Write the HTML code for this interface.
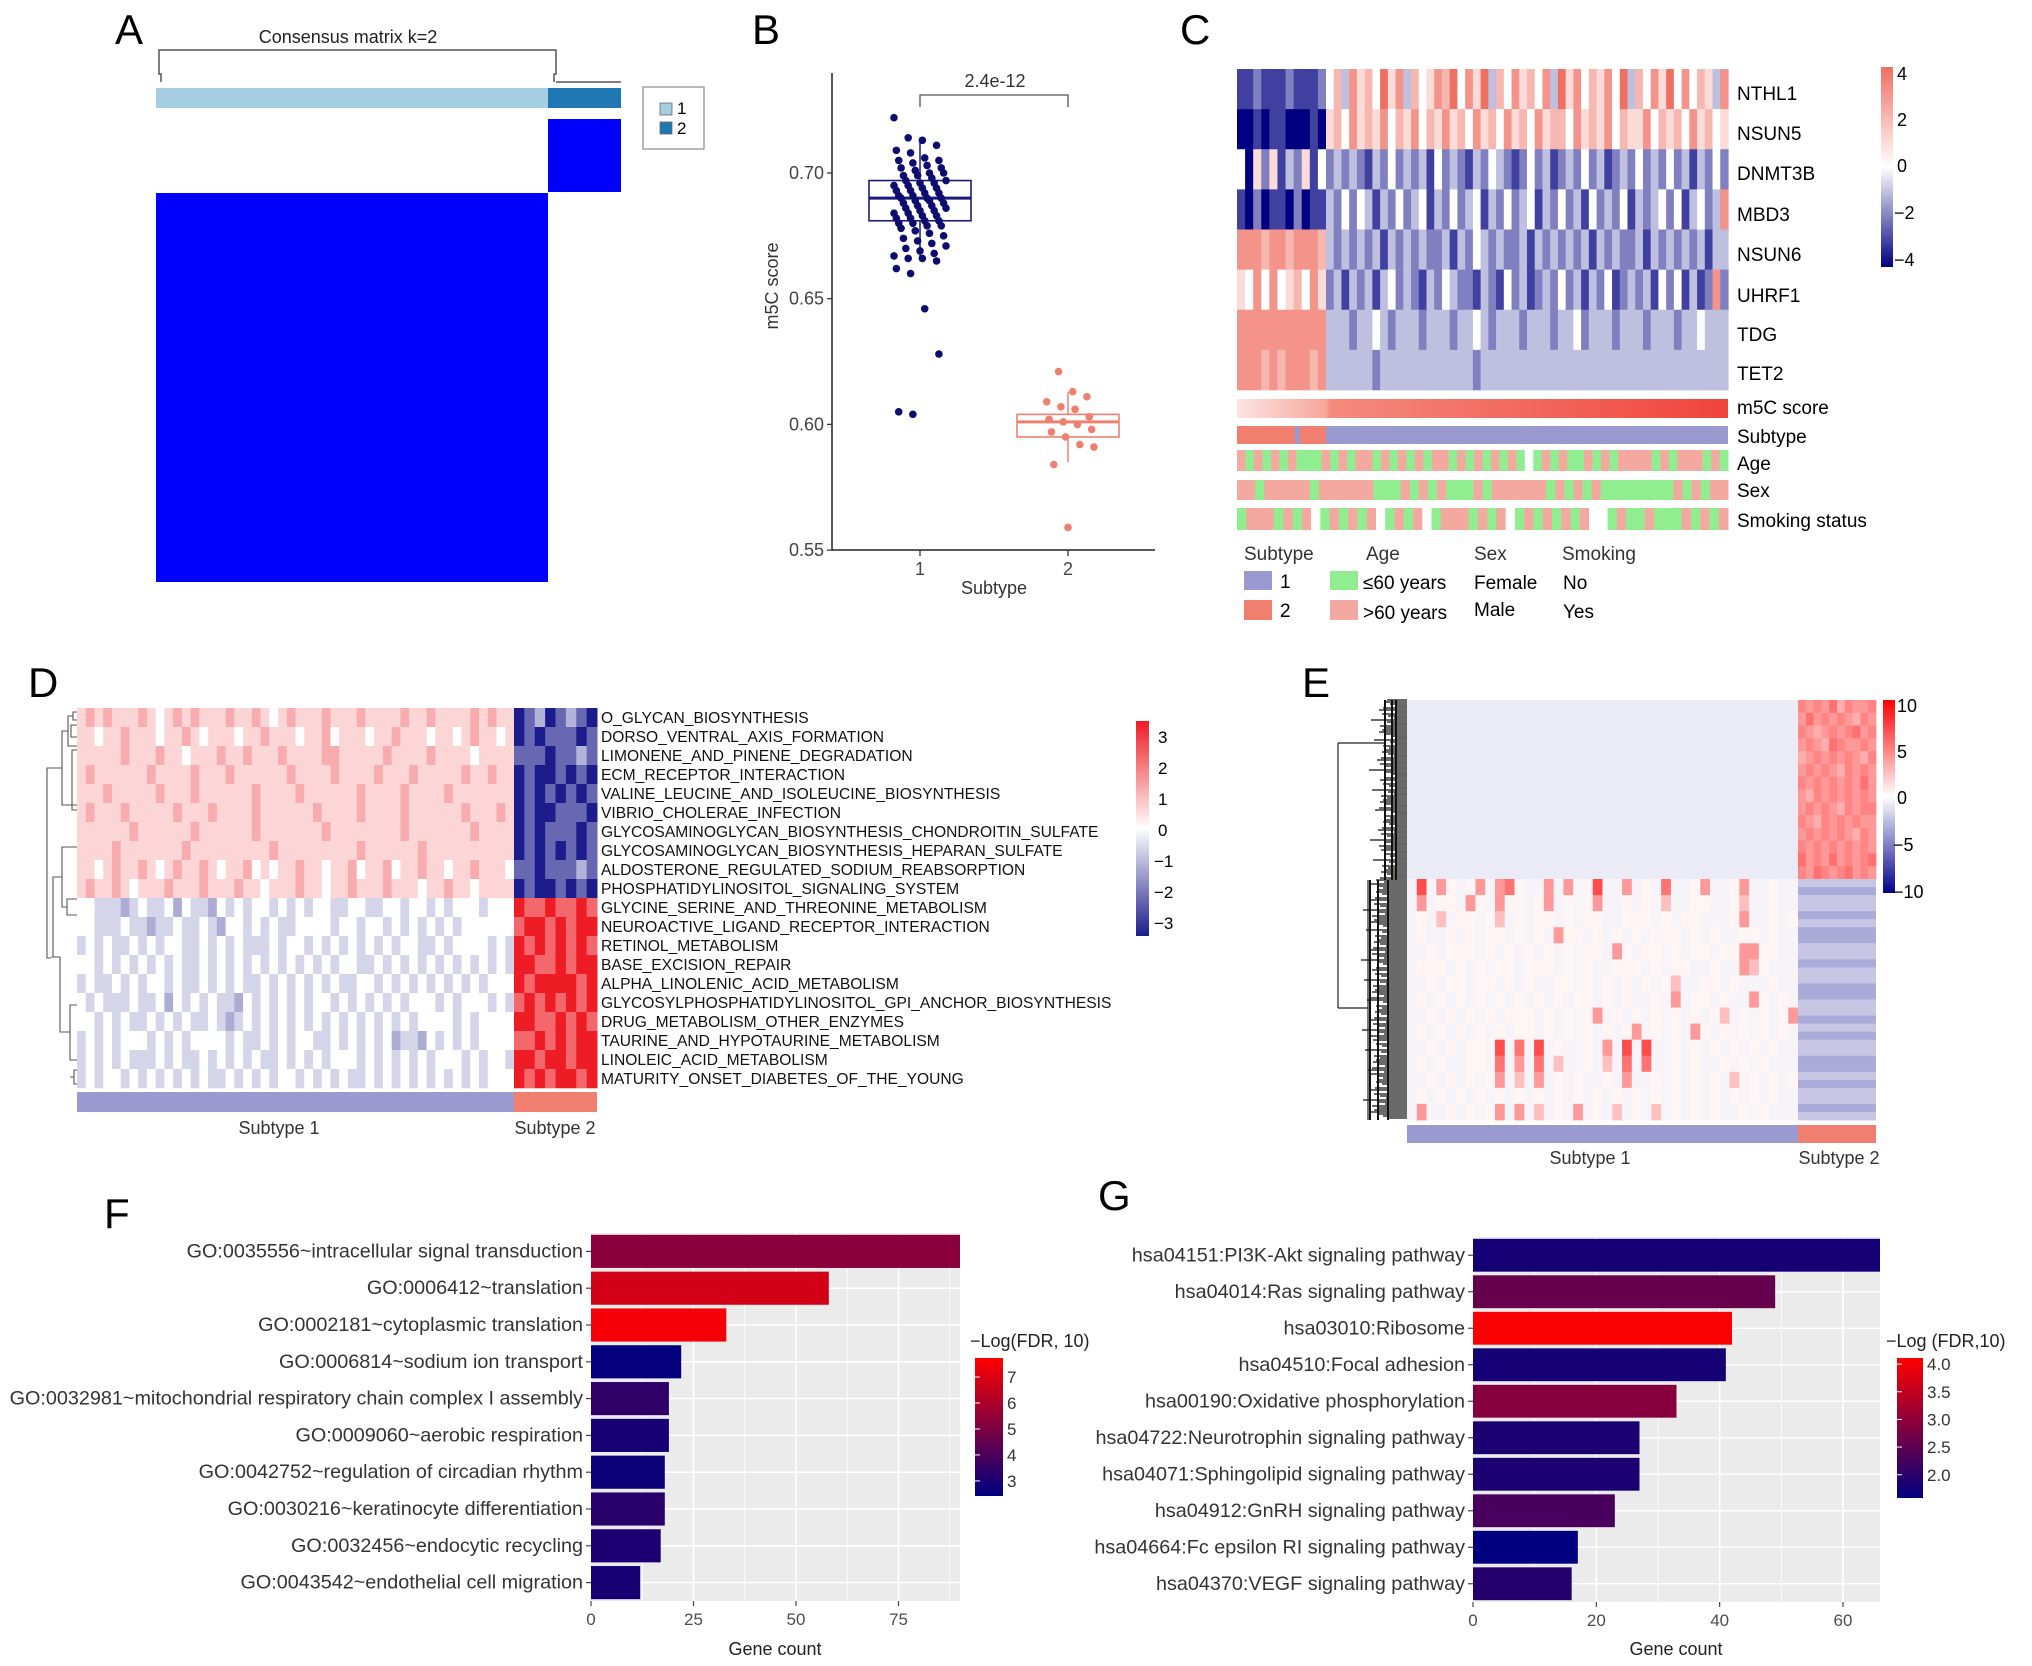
<!DOCTYPE html>
<html><head><meta charset="utf-8"><style>
html,body{margin:0;padding:0;background:#fff;}
svg{display:block;font-family:"Liberation Sans",Arial,sans-serif;}
</style></head><body>
<svg id="fig" width="2032" height="1666" viewBox="0 0 2032 1666" xmlns="http://www.w3.org/2000/svg">
<rect width="2032" height="1666" fill="#fff"/>
<text x="115" y="44" font-size="42">A</text>
<text x="752" y="44" font-size="42">B</text>
<text x="1180" y="44" font-size="42">C</text>
<text x="28" y="697" font-size="42">D</text>
<text x="1302" y="697" font-size="42">E</text>
<text x="104" y="1228" font-size="42">F</text>
<text x="1098" y="1210" font-size="42">G</text>

<g>
<text x="348" y="43" font-size="18" text-anchor="middle" fill="#222">Consensus matrix k=2</text>
<path d="M161,82 V74 h-2 V50 H556 V74 h-2 V82 M556,82 H621" fill="none" stroke="#555" stroke-width="1.5"/>
<rect x="156" y="88" width="392" height="20" fill="#a6cee3"/>
<rect x="548" y="88" width="73" height="20" fill="#1f78b4"/>
<rect x="548" y="119" width="73" height="73" fill="#0000ff"/>
<rect x="156" y="193" width="392" height="389" fill="#0000ff"/>
<rect x="643" y="87" width="61" height="62" fill="#fff" stroke="#888" stroke-width="1.2"/>
<rect x="660" y="103" width="12" height="12" fill="#a6cee3" stroke="#666" stroke-width="0.8"/>
<text x="677" y="114" font-size="17">1</text>
<rect x="660" y="122" width="12" height="12" fill="#1f78b4" stroke="#666" stroke-width="0.8"/>
<text x="677" y="134" font-size="17">2</text>
</g>

<g id="pB">
<line x1="832" y1="73" x2="832" y2="550" stroke="#222" stroke-width="1.5"/>
<line x1="832" y1="550" x2="1155" y2="550" stroke="#222" stroke-width="1.5"/>
<text x="0" y="0" transform="translate(778,286) rotate(-90)" font-size="18" text-anchor="middle" fill="#333">m5C score</text>
<text x="994" y="594" font-size="18" text-anchor="middle" fill="#333">Subtype</text>
<path d="M920,107 V95 H1068 V107" fill="none" stroke="#555" stroke-width="1.3"/>
<text x="995" y="87" font-size="18" text-anchor="middle" fill="#333">2.4e-12</text>
</g>

<g>
<text x="1737" y="100" font-size="19">NTHL1</text>
<text x="1737" y="140" font-size="19">NSUN5</text>
<text x="1737" y="180" font-size="19">DNMT3B</text>
<text x="1737" y="221" font-size="19">MBD3</text>
<text x="1737" y="261" font-size="19">NSUN6</text>
<text x="1737" y="302" font-size="19">UHRF1</text>
<text x="1737" y="341" font-size="19">TDG</text>
<text x="1737" y="380" font-size="19">TET2</text>
<text x="1737" y="414" font-size="19">m5C score</text>
<text x="1737" y="443" font-size="19">Subtype</text>
<text x="1737" y="470" font-size="19">Age</text>
<text x="1737" y="497" font-size="19">Sex</text>
<text x="1737" y="527" font-size="19">Smoking status</text>
<defs>
<linearGradient id="m5cg" x1="0" x2="1" y1="0" y2="0"><stop offset="0" stop-color="#fbe4e1"/><stop offset="0.18" stop-color="#f6a79c"/><stop offset="0.19" stop-color="#f48b7e"/><stop offset="1" stop-color="#f0443c"/></linearGradient>
<linearGradient id="cbarC" x1="0" x2="0" y1="0" y2="1"><stop offset="0" stop-color="#ef6f63"/><stop offset="0.5" stop-color="#ffffff"/><stop offset="1" stop-color="#000080"/></linearGradient>
<linearGradient id="cbarD" x1="0" x2="0" y1="0" y2="1"><stop offset="0" stop-color="#ee1c24"/><stop offset="0.5" stop-color="#ffffff"/><stop offset="1" stop-color="#1c1c8c"/></linearGradient>
<linearGradient id="cbarE" x1="0" x2="0" y1="0" y2="1"><stop offset="0" stop-color="#ff0000"/><stop offset="0.5" stop-color="#ffffff"/><stop offset="1" stop-color="#00008b"/></linearGradient>
<linearGradient id="cbarF" x1="0" x2="0" y1="0" y2="1"><stop offset="0" stop-color="#ff0000"/><stop offset="1" stop-color="#000080"/></linearGradient>
</defs>
<rect x="1237" y="399" width="491" height="19" fill="url(#m5cg)"/>
<rect x="1237" y="426" width="89" height="18" fill="#f07f6f"/>
<rect x="1295" y="426" width="5" height="18" fill="#9a9ad0"/>
<rect x="1326" y="426" width="402" height="18" fill="#9a9ad0"/>
<rect x="1881" y="67" width="12" height="200" fill="url(#cbarC)"/>
<text x="1897" y="80" font-size="18">4</text>
<text x="1897" y="126" font-size="18">2</text>
<text x="1897" y="172" font-size="18">0</text>
<text x="1894" y="219" font-size="18">−2</text>
<text x="1894" y="266" font-size="18">−4</text>
<text x="1244" y="560" font-size="19" fill="#333">Subtype</text>
<text x="1366" y="560" font-size="19" fill="#333">Age</text>
<text x="1474" y="560" font-size="19" fill="#333">Sex</text>
<text x="1562" y="560" font-size="19" fill="#333">Smoking</text>
<rect x="1244" y="571" width="28" height="19" fill="#9a9ad0"/>
<text x="1280" y="588" font-size="19">1</text>
<rect x="1244" y="600" width="28" height="20" fill="#f07f6f"/>
<text x="1280" y="617" font-size="19">2</text>
<rect x="1330" y="571" width="28" height="19" fill="#90ee90"/>
<text x="1363" y="589" font-size="19">≤60 years</text>
<rect x="1330" y="600" width="28" height="20" fill="#f4a9a0"/>
<text x="1363" y="619" font-size="19">&gt;60 years</text>
<text x="1474" y="589" font-size="19">Female</text>
<text x="1474" y="616" font-size="19">Male</text>
<text x="1563" y="589" font-size="19">No</text>
<text x="1563" y="618" font-size="19">Yes</text>
</g>

<g>
<rect x="77" y="1092" width="437" height="20" fill="#9a9ad0"/>
<rect x="514" y="1092" width="83" height="20" fill="#f07f6f"/>
<text x="279" y="1134" font-size="18" text-anchor="middle" fill="#333">Subtype 1</text>
<text x="555" y="1134" font-size="18" text-anchor="middle" fill="#333">Subtype 2</text>
<rect x="1136" y="721" width="13" height="215" fill="url(#cbarD)"/>
<text x="1158" y="743" font-size="17">3</text>
<text x="1158" y="774" font-size="17">2</text>
<text x="1158" y="805" font-size="17">1</text>
<text x="1158" y="836" font-size="17">0</text>
<text x="1154" y="867" font-size="17">−1</text>
<text x="1154" y="898" font-size="17">−2</text>
<text x="1154" y="929" font-size="17">−3</text>
<path d="M77,712 h-4 v8 h4 M73,716 h-5 v30 h9 M77,725 h-6 v12 h6 M68,731 h-6 v74 h15 M77,750 h-5 v60 h5 M62,768 h-15 v190 h4 M77,915 h-10 v-16 h10 M67,907 h-5 v-60 h15 M62,877 h-9 v80 h-2 M77,1005 h-7 v55 h7 M70,1032 h-10 v-75 h-9 M77,1070 h-3 v14 h3 M74,1077 h-4" fill="none" stroke="#555" stroke-width="1.1"/>
</g>
<g id="dLabels"></g>

<g>
<rect x="1407" y="1125" width="391" height="18" fill="#9a9ad0"/>
<rect x="1798" y="1125" width="78" height="18" fill="#f07f6f"/>
<text x="1590" y="1164" font-size="18" text-anchor="middle" fill="#333">Subtype 1</text>
<text x="1839" y="1164" font-size="18" text-anchor="middle" fill="#333">Subtype 2</text>
<rect x="1883" y="700" width="12" height="193" fill="url(#cbarE)"/>
<text x="1897" y="712" font-size="18">10</text>
<text x="1897" y="758" font-size="18">5</text>
<text x="1897" y="804" font-size="18">0</text>
<text x="1893" y="851" font-size="18">−5</text>
<text x="1893" y="898" font-size="18">−10</text>
<path d="M1338,743 V1008 M1338,743 H1385 M1338,1008 H1368 M1368,880 V1120 M1385,700 V790" fill="none" stroke="#222" stroke-width="1.2"/>
</g>
<g id="eDendro"></g>

<g>
<rect x="591" y="1233" width="369" height="368" fill="#ebebeb"/>
<text x="775" y="1655" font-size="18" text-anchor="middle" fill="#222">Gene count</text>
<text x="970" y="1347" font-size="18" fill="#222">−Log(FDR, 10)</text>
<rect x="975" y="1358" width="28" height="138" fill="url(#cbarF)"/>
</g>
<g>
<rect x="1473" y="1237" width="407" height="365" fill="#ebebeb"/>
<text x="1676" y="1655" font-size="18" text-anchor="middle" fill="#222">Gene count</text>
<text x="1886" y="1347" font-size="18" fill="#222">−Log (FDR,10)</text>
<rect x="1897" y="1358" width="26" height="140" fill="url(#cbarF)"/>
</g>
</svg>
<script>
// ===== Panel B data =====
const bSub1 = [0.722,0.714,0.713,0.711,0.709,0.708,0.706,0.705,0.705,0.704,0.703,0.702,0.702,0.701,0.700,0.700,0.699,0.699,0.698,0.697,0.697,0.696,0.696,0.695,0.695,0.694,0.694,0.693,0.693,0.692,0.692,0.691,0.691,0.690,0.690,0.690,0.689,0.689,0.688,0.688,0.687,0.687,0.686,0.686,0.685,0.685,0.684,0.684,0.683,0.683,0.682,0.682,0.681,0.681,0.680,0.680,0.679,0.679,0.678,0.677,0.676,0.675,0.674,0.673,0.672,0.671,0.670,0.669,0.668,0.667,0.666,0.666,0.665,0.662,0.660,0.646,0.628,0.605,0.604];
const bSub2 = [0.621,0.613,0.611,0.609,0.607,0.606,0.603,0.602,0.601,0.600,0.598,0.597,0.595,0.592,0.591,0.584,0.559];
const bBox1 = [0.666,0.681,0.690,0.697,0.714];
const bBox2 = [0.585,0.595,0.601,0.604,0.613];
const bTicks = [0.55,0.60,0.65,0.70];
const bCats = ["1","2"];

// ===== Panel C data (levels 0..8 => -4..4) =====
const cGenes = ["NTHL1","NSUN5","DNMT3B","MBD3","NSUN6","UHRF1","TDG","TET2"];
const cSub2 = ["11211121112","00101100010","40525132514","10201102011","77767767776","54747456475","77777777777","77767677767"];
const cSub1 = [
"4637564857364576847583647564738574657483647584746537",
"5647565746574657564756475647566475657465574656475645",
"2323213242323142321324321242312324231232423242313242",
"3242431324234132423413242341324231423241323424134237",
"3232323132323223132432322313232323132322313232323133",
"2313231342321324322132142312324231324123231424131272",
"3332334323332333233432333233323342333233323332334333",
"3333332333333333333233333333333333333333333333333333"];
const cAge = "pgpgpgpgggpgpgppgpgpgpgppgpgpgpgpgwgpgpggpgpgppppgpgpppgpg";
const cSex = "ppgpppppgppppppgggpgpgpgggpgppppppgpgpgpggggggggpgpgpp";
const cSmoke = "gpppgpgpwgpgpgpwgpgpwgpppgpgpwgpgpgpgpwwgpggpgggpgpgp";

// ===== Panel D data (levels 0..6; left block in 0.55 units, right block in 1 units) =====
const dPaths = ["O_GLYCAN_BIOSYNTHESIS","DORSO_VENTRAL_AXIS_FORMATION","LIMONENE_AND_PINENE_DEGRADATION","ECM_RECEPTOR_INTERACTION","VALINE_LEUCINE_AND_ISOLEUCINE_BIOSYNTHESIS","VIBRIO_CHOLERAE_INFECTION","GLYCOSAMINOGLYCAN_BIOSYNTHESIS_CHONDROITIN_SULFATE","GLYCOSAMINOGLYCAN_BIOSYNTHESIS_HEPARAN_SULFATE","ALDOSTERONE_REGULATED_SODIUM_REABSORPTION","PHOSPHATIDYLINOSITOL_SIGNALING_SYSTEM","GLYCINE_SERINE_AND_THREONINE_METABOLISM","NEUROACTIVE_LIGAND_RECEPTOR_INTERACTION","RETINOL_METABOLISM","BASE_EXCISION_REPAIR","ALPHA_LINOLENIC_ACID_METABOLISM","GLYCOSYLPHOSPHATIDYLINOSITOL_GPI_ANCHOR_BIOSYNTHESIS","DRUG_METABOLISM_OTHER_ENZYMES","TAURINE_AND_HYPOTAURINE_METABOLISM","LINOLEIC_ACID_METABOLISM","MATURITY_ONSET_DIABETES_OF_THE_YOUNG"];
const dLeft = [
"45454445434545444544543454445444544445445444454544",
"44344544434454344434454443445344434454443443454434",
"44444544454434445445444544445544444544445444434444",
"45444444544445444544444454444544445444544444544544",
"44454444454445444444544445444444544445444454444444",
"45444544444544454444544444454444544445444444544454",
"44444454444445444444544444445444444445444444454444",
"44445444444454444444445444444444544444454444444444",
"44345445434544543445343445443445344534454434454443",
"45445434445444544454434445443445444544434454434444",
"33222123223132213232332323233223322332332323332333",
"33222322122322321332323223333233233232323232333333",
"23232232323322323232223233232323232323322323333232",
"33232323232322323232323232323233223232323232323232",
"23223232332322323232232323232322332323232323232333",
"32322232231323232213232323233232323232333232333232",
"33232322323232232123232323232323232323233332323333",
"23232333232323333232232323322323232312213232323333",
"23232322232322323232322323232333232323232333232332",
"23233232323232322323232332323232232323232323232333"];
const dRight = ["01201210","01011101","11101121","01001010","01010101","01001110","01011101","01010101","11011121","01001010","65565565","56656566","65656565","66556566","65666656","56565656","66556565","55656566","66566566","65656656"];
const dLeftUnit = 0.55;

// ===== Panel E data =====
const eTopLeft = -0.8;
const eTopRight = ["6565746556","5756565465","6545656756","5654765565","4565656546","5656546565","6565656575","5465656565","5656546566","6546565655","5656565465","6565656565","7565756567","6576567565"];
const eBotLeft = [
"0503101303410030301500301040013001300100",
"0301103103110130101300101020011001200100",
"0102011012010110101100111010110001300101",
"0100101011010103110101010111010100110100",
"0010111010101010101103101101011011331100",
"0111010101101110101001110101100100321000",
"0010110110101001101010101012001101000100",
"0101010101010101011010100103011010031010",
"0010101010111010101301010101010120101013",
"0101010101011010101010130101031010101010",
"0010101105040501001030505001010101010100",
"0101001104030402001020404001010010101000",
"0010101013020301010010300101010102010101",
"0101010101010101010101010101010101010100",
"0300101013030201030102010201010100101000"];
const eLevelVals = [0,0.4,2.5,4,5.5,7];
const eBotRight = [-2,-3,-2,-2,-3,-2,-3,-3,-2,-2,-3,-2,-2,-3,-3,-2,-2,-3,-2,-3,-2,-2,-3,-3,-2,-3,-2,-2,-3,-2];

// ===== Panel F/G data =====
const fTerms = ["GO:0035556~intracellular signal transduction","GO:0006412~translation","GO:0002181~cytoplasmic translation","GO:0006814~sodium ion transport","GO:0032981~mitochondrial respiratory chain complex I assembly","GO:0009060~aerobic respiration","GO:0042752~regulation of circadian rhythm","GO:0030216~keratinocyte differentiation","GO:0032456~endocytic recycling","GO:0043542~endothelial cell migration"];
const fCounts = [90,58,33,22,19,19,18,18,17,12];
const fFdr = [5.3,6.8,7.5,2.5,3.4,2.9,2.7,3.3,3.0,2.9];
const fTicks = [0,25,50,75];
const fCbTicks = [3,4,5,6,7];
const gTerms = ["hsa04151:PI3K-Akt signaling pathway","hsa04014:Ras signaling pathway","hsa03010:Ribosome","hsa04510:Focal adhesion","hsa00190:Oxidative phosphorylation","hsa04722:Neurotrophin signaling pathway","hsa04071:Sphingolipid signaling pathway","hsa04912:GnRH signaling pathway","hsa04664:Fc epsilon RI signaling pathway","hsa04370:VEGF signaling pathway"];
const gCounts = [66,49,42,41,33,27,27,23,17,16];
const gFdr = [1.8,2.6,4.05,1.8,2.9,1.85,1.85,2.3,1.6,1.95];
const gTicks = [0,20,40,60];
const gCbTicks = [2.0,2.5,3.0,3.5,4.0];

const NS = 'http://www.w3.org/2000/svg';
const svg = document.getElementById('fig');
function mk(tag, a, parent){const e=document.createElementNS(NS,tag);for(const k in a)e.setAttribute(k,a[k]);(parent||svg).appendChild(e);return e;}
function hx(c){return [parseInt(c.slice(1,3),16),parseInt(c.slice(3,5),16),parseInt(c.slice(5,7),16)];}
function lerp(c1,c2,t){t=Math.max(0,Math.min(1,t));const a=hx(c1),b=hx(c2);return 'rgb('+a.map((v,i)=>Math.round(v+(b[i]-v)*t)).join(',')+')';}
function div(v,m,lo,hi){return v<0?lerp('#ffffff',lo,-v/m):lerp('#ffffff',hi,v/m);}

// ===== B =====
const by = v => 173 + (0.70 - v) / 0.05 * 125.7;
const bx = i => 920 + i * 148;
bTicks.forEach(t=>{
  const l=mk('line',{x1:827,x2:832,y1:by(t),y2:by(t),stroke:'#333','stroke-width':1.3});
  
  
  const tx=mk('text',{x:824,y:by(t)+6,'font-size':18,'text-anchor':'end',fill:'#444'});
  tx.textContent=t.toFixed(2);
  
  
});
bCats.forEach((c,i)=>{
  const l=mk('line',{x1:bx(i),x2:bx(i),y1:550,y2:556,stroke:'#333','stroke-width':1.3});
  
  
  const tx=mk('text',{x:bx(i),y:575,'font-size':18,'text-anchor':'middle',fill:'#444'});
  tx.textContent=c;
  
  
});
[[bBox1,'#1a1a7a'],[bBox2,'#f08070']].forEach((bb,i)=>{
  const s=bb[0], col=bb[1], cx=bx(i), hw=51;
  const w=mk('path',{d:`M${cx},${by(s[0])}V${by(s[1])}M${cx},${by(s[3])}V${by(s[4])}`,stroke:col,'stroke-width':1.5,fill:'none'});
  
  
  const r=mk('rect',{x:cx-hw,y:by(s[3]),width:2*hw,height:by(s[1])-by(s[3]),fill:'none',stroke:col,'stroke-width':1.6});
  
  
  const m=mk('line',{x1:cx-hw,x2:cx+hw,y1:by(s[2]),y2:by(s[2]),stroke:col,'stroke-width':3});
  
  
});
[[bSub1,'#0d0d70'],[bSub2,'#f07f6f']].forEach((pair,g)=>{
  const vals=pair[0], col=pair[1];
  vals.forEach((v,i)=>{
    const dx=(((i*29+g*7)%23)/22-0.5)*52;
    const p=mk('circle',{cx:bx(g)+dx,cy:by(v),r:3.8,fill:col});
    
    
  });
});

// ===== C =====
const cRowH = (390-69)/8;
function cCol(l){return div(l-4,4,'#000080','#ef6f63');}
cGenes.forEach((g,r)=>{
  const y=69+r*cRowH;
  [[cSub2[r],1237,89],[cSub1[r],1326,402]].forEach(part=>{
    const s=part[0], x0=part[1], w=part[2], cw=w/s.length;
    for(let i=0;i<s.length;i++){
      const c=mk('rect',{x:x0+i*cw,y:y,width:cw+0.6,height:cRowH+0.3,fill:cCol(+s[i])});
      
      
    }
  });
});
const annCol={g:'#90ee90',p:'#f4a9a0',w:'#ffffff'};
[[cAge,450,21,'age'],[cSex,480,20,'sex'],[cSmoke,508,22,'smoking']].forEach(a=>{
  const s=a[0], y=a[1], h=a[2], n=a[3], cw=491/s.length;
  for(let i=0;i<s.length;i++){
    const c=mk('rect',{x:1237+i*cw,y:y,width:cw+0.5,height:h,fill:annCol[s[i]]});
    
    
  }
});

// ===== D =====
const dRowH=(1088-708)/20;
function dCol(v){return div(v,3,'#1c1c8c','#ee1c24');}
dPaths.forEach((p,r)=>{
  const y=708+r*dRowH;
  [[dLeft[r],77,437,dLeftUnit],[dRight[r],514,83,1]].forEach(part=>{
    const s=part[0], x0=part[1], w=part[2], u=part[3], cw=w/s.length;
    for(let i=0;i<s.length;i++){
      const c=mk('rect',{x:x0+i*cw,y:y,width:cw+0.5,height:dRowH+0.3,fill:dCol((+s[i]-3)*u)});
      
      
    }
  });
  const t=mk('text',{x:601,y:y+dRowH/2+5.5,'font-size':15.6,fill:'#111'},document.getElementById('dLabels'));
  t.textContent=p;
  
  
});

// ===== E =====
function eCol(v){return div(v,10,'#00008b','#ff0000');}
{
  const tl=mk('rect',{x:1407,y:700,width:391,height:179,fill:eCol(eTopLeft)});
  
  
  const rh=179/eTopRight.length;
  eTopRight.forEach((s,r)=>{const cw=78/s.length;for(let i=0;i<s.length;i++){
    const c=mk('rect',{x:1798+i*cw,y:700+r*rh,width:cw+0.4,height:rh+0.4,fill:eCol(+s[i]*0.8)});
    
    
  }});
  const bh=(1120-879)/eBotLeft.length;
  eBotLeft.forEach((s,r)=>{const cw=391/s.length;for(let i=0;i<s.length;i++){
    const v=eLevelVals[+s[i]]; const c=mk('rect',{x:1407+i*cw,y:879+r*bh,width:cw+0.4,height:bh+0.4,fill:v===0?'#f6f4f8':eCol(v)});
    
    
  }});
  const sh=(1120-879)/eBotRight.length;
  eBotRight.forEach((v,r)=>{
    const c=mk('rect',{x:1798,y:879+r*sh,width:78,height:sh+0.4,fill:eCol(v*1.1)});
    
    
  });
  const dg=document.getElementById('eDendro');
  for(let k=0;k<210;k++){
    const y=700+k*2;
    const len=10+((k*13)%19)+(k%5===0?10:0)+(y>880?8:0);
    const l=mk('line',{x1:1407-len,x2:1407,y1:y,y2:y,stroke:'#111','stroke-width':1.3},dg);
    
    
  }
  const v1=mk('path',{d:'M1385,700V880M1370,880V1120M1392,700V880M1378,880V1120M1396,700V880M1388,880V1120',stroke:'#111','stroke-width':2,fill:'none'},dg);
  
  
}

// ===== F & G =====
function barChart(o){
  const xs=v=>o.x0+v*(o.x1-o.x0)/o.max;
  const band=(o.y1-o.y0)/o.terms.length;
  o.ticks.forEach(t0=>{const t=t0+o.step/2;if(t<o.max){const l=mk('line',{x1:xs(t),x2:xs(t),y1:o.y0,y2:o.y1,stroke:'#fff','stroke-width':0.8});
    
    }});
  o.ticks.forEach(t=>{
    const l=mk('line',{x1:xs(t),x2:xs(t),y1:o.y0,y2:o.y1,stroke:'#fff','stroke-width':1.6});
    
    
    const tk=mk('line',{x1:xs(t),x2:xs(t),y1:o.y1,y2:o.y1+5,stroke:'#444','stroke-width':1.2});
    
    
    const tx=mk('text',{x:xs(t),y:o.y1+24,'font-size':17,'text-anchor':'middle',fill:'#4d4d4d'});
    tx.textContent=t;
    
    
  });
  o.terms.forEach((t,i)=>{
    const cy=o.y0+band*(i+0.5);
    const g=mk('line',{x1:o.x0,x2:o.x1,y1:cy,y2:cy,stroke:'#fff','stroke-width':1.6});
    
    
    const col=lerp('#000080','#ff0000',(o.fdr[i]-o.cmin)/(o.cmax-o.cmin));
    const b=mk('rect',{x:o.x0,y:cy-band*0.45,width:xs(o.counts[i])-o.x0,height:band*0.9,fill:col});
    
    
    const tk=mk('line',{x1:o.x0-5,x2:o.x0,y1:cy,y2:cy,stroke:'#444','stroke-width':1.2});
    
    
    const tx=mk('text',{x:o.x0-8,y:cy+6,'font-size':19.8,'text-anchor':'end',fill:'#333'});
    tx.textContent=t;
    
    
  });
  o.cbTicks.forEach(t=>{
    const y=o.cb.y1-(t-o.cmin)/(o.cmax-o.cmin)*(o.cb.y1-o.cb.y0);
    const tk=mk('line',{x1:o.cb.x,x2:o.cb.x+5,y1:y,y2:y,stroke:'#fff','stroke-width':1});
    
    
    const tx=mk('text',{x:o.cb.x+o.cb.w+4,y:y+6,'font-size':17,fill:'#333'});
    tx.textContent=o.cbFmt(t);
    
    
  });
}
barChart({id:'f',terms:fTerms,counts:fCounts,fdr:fFdr,ticks:fTicks,step:25,max:90,x0:591,x1:960,y0:1233,y1:1601,cmin:2.42,cmax:7.73,cbTicks:fCbTicks,cbFmt:t=>String(t),cb:{x:975,w:28,y0:1358,y1:1496}});
barChart({id:'g',terms:gTerms,counts:gCounts,fdr:gFdr,ticks:gTicks,step:20,max:66,x0:1473,x1:1880,y0:1237,y1:1602,cmin:1.58,cmax:4.11,cbTicks:gCbTicks,cbFmt:t=>t.toFixed(1),cb:{x:1897,w:26,y0:1358,y1:1498}});
</script>
</body></html>
